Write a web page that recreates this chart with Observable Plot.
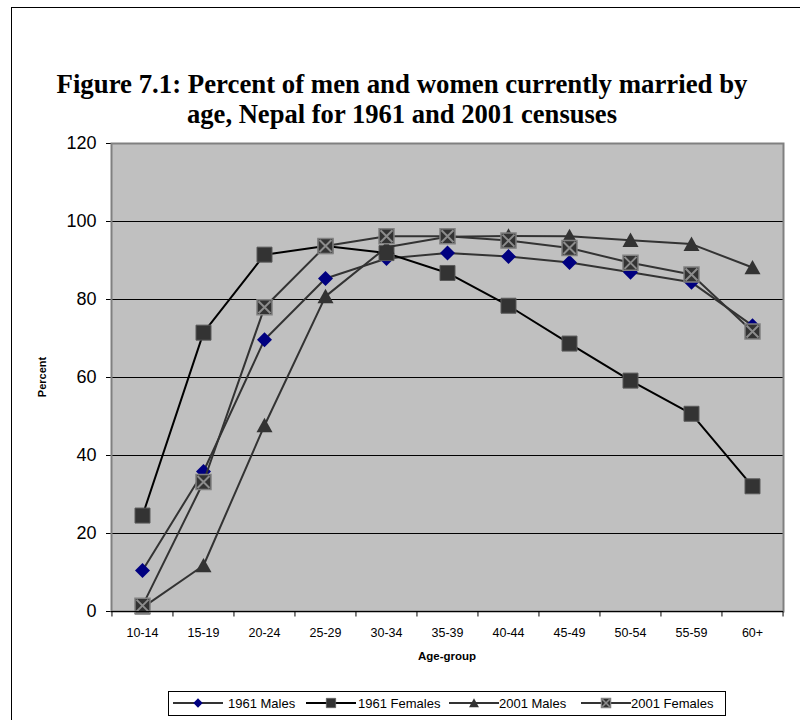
<!DOCTYPE html>
<html>
<head>
<meta charset="utf-8">
<script src="https://cdn.jsdelivr.net/npm/d3@7"></script>
<script src="https://cdn.jsdelivr.net/npm/@observablehq/plot@0.6"></script>
<style>
  body { margin: 0; background: #fff; }
  #chart { position: relative; width: 800px; height: 720px; overflow: hidden; font-family: "Liberation Sans", Arial, sans-serif; }
  #outer { position: absolute; left: 11px; top: 7px; width: 900px; height: 900px; border-left: 1px solid #000; border-top: 1px solid #000; }
  #plot, #overlay { position: absolute; left: 0; top: 0; }
  #overlay { pointer-events: none; }
  #plot [aria-label^="y-axis"] text { font-size: 18px; }
  #plot [aria-label^="x-axis"] text { font-size: 12.5px; }
  #legend { position: absolute; left: 168px; top: 691px; width: 556px; height: 23px; border: 1px solid #000; background: #fff;
            font-size: 13px; color: #000; }
  #legend .swatch { position: absolute; top: 4px; }
  #legend .label { position: absolute; top: 4px; line-height: 15px; white-space: nowrap; }
</style>
</head>
<body>
<div id="chart">
  <div id="outer"></div>
  <div id="plot"></div>
  <svg id="overlay" width="800" height="720"></svg>
  <div id="legend"></div>
</div>
<script>
// Age groups on the x axis
const ageGroups = ["10-14", "15-19", "20-24", "25-29", "30-34", "35-39", "40-44", "45-49", "50-54", "55-59", "60+"];

// Percent currently married, by census and sex
const males1961   = [10.5, 35.9, 69.7, 85.4, 90.5, 91.9, 91.0, 89.5, 87.0, 84.4, 73.3];
const females1961 = [24.6, 71.5, 91.5, 93.7, 91.9, 86.8, 78.4, 68.7, 59.2, 50.7, 32.1];
const males2001   = [1.0, 11.8, 47.7, 80.8, 93.4, 96.1, 96.3, 96.2, 95.2, 94.2, 88.2];
const females2001 = [1.5, 33.2, 78.0, 93.7, 96.2, 96.2, 95.1, 93.2, 89.4, 86.4, 71.8];

const seriesNames = ["1961 Males", "1961 Females", "2001 Males", "2001 Females"];
const yTicks = [0, 20, 40, 60, 80, 100, 120];
const gridValues = [20, 40, 60, 80, 100];

// Marker shapes (size = pi * r^2, so r is the half-width)
const half = size => Math.sqrt(size / Math.PI);
const symSquare = { draw(c, s) { const r = half(s); c.rect(-r, -r, 2 * r, 2 * r); } };
const symDiamond = { draw(c, s) { const r = half(s); c.moveTo(0, -r); c.lineTo(r, 0); c.lineTo(0, r); c.lineTo(-r, 0); c.closePath(); } };
const symTriangle = { draw(c, s) { const r = half(s); c.moveTo(0, -r * 0.95); c.lineTo(r, r * 0.85); c.lineTo(-r, r * 0.85); c.closePath(); } };
const symTimes = { draw(c, s) { const r = half(s); c.moveTo(-r, -r); c.lineTo(r, r); c.moveTo(r, -r); c.lineTo(-r, r); } };
const symTick = { draw(c, s) { const r = half(s); c.moveTo(0, 0); c.lineTo(0, r); } };

// Per-series styling
const styles = {
  "1961 Males":   { line: "#333333", width: 2, markers: [{ symbol: symDiamond, r: 7.5, fill: "#000080", stroke: "none" }] },
  "1961 Females": { line: "#000000", width: 2, markers: [{ symbol: symSquare, r: 7.5, fill: "#333333", stroke: "#5a5a5a", strokeWidth: 1 }] },
  "2001 Males":   { line: "#333333", width: 2, markers: [{ symbol: symTriangle, r: 8, fill: "#333333", stroke: "none" }] },
  "2001 Females": { line: "#333333", width: 2, markers: [
                      { symbol: symSquare, r: 7.5, fill: "#333333", stroke: "#808080", strokeWidth: 1.5 },
                      { symbol: symTimes, r: 6, fill: "none", stroke: "#8c8c8c", strokeWidth: 2 }] }
};

const valuesBySeries = {
  "1961 Males": males1961, "1961 Females": females1961,
  "2001 Males": males2001, "2001 Females": females2001
};

const rows = seriesNames.flatMap(name =>
  valuesBySeries[name].map((v, i) => ({ series: name, age: ageGroups[i], value: v })));

const W = 800, H = 720;
const mL = 111, mR = 17, mT = 143, mB = 109;
const step = (W - mL - mR) / ageGroups.length;

// Category boundary ticks on the x axis
const boundaryRows = ageGroups.map(a => ({ age: a, shift: -step / 2 }))
  .concat([{ age: ageGroups[ageGroups.length - 1], shift: step / 2 }]);

const seriesMarks = seriesNames.flatMap(name => {
  const st = styles[name];
  const data = rows.filter(d => d.series === name);
  return [
    Plot.line(data, { x: "age", y: "value", stroke: st.line, strokeWidth: st.width, strokeLinejoin: "round" }),
    ...st.markers.map(m => Plot.dot(data, {
      x: "age", y: "value", symbol: m.symbol, r: m.r,
      fill: m.fill, stroke: m.stroke, strokeWidth: m.strokeWidth || 1
    }))
  ];
});

const chart = Plot.plot({
  width: W, height: H,
  marginLeft: mL, marginRight: mR, marginTop: mT, marginBottom: mB,
  style: { fontFamily: "'Liberation Sans', Arial, sans-serif", fontSize: "12.5px", color: "#000", background: "transparent" },
  x: { type: "point", domain: ageGroups, padding: 0.5, tickSize: 0, tickPadding: 17, label: null, line: true },
  y: { domain: [0, 120], ticks: yTicks, tickSize: 5, tickPadding: 10, label: null, line: true },
  marks: [
    Plot.frame({ fill: "#c0c0c0" }),
    Plot.ruleY(gridValues, { stroke: "#000", strokeWidth: 1 }),
    Plot.frame({ stroke: "#808080", strokeWidth: 2 }),
    ...seriesMarks,
    Plot.ruleY([0], { stroke: "#000", strokeWidth: 1 }),
    ...boundaryRows.map(b => Plot.dot([b], {
      x: "age", frameAnchor: "bottom", symbol: symTick, r: 5, stroke: "#000", strokeWidth: 1, dx: b.shift
    }))
  ]
});
document.getElementById("plot").appendChild(chart);

// Title and axis titles
const overlay = d3.select("#overlay");
const titleLines = [
  { text: "Figure 7.1: Percent of men and women currently married by", y: 93, len: 691 },
  { text: "age, Nepal for 1961 and 2001 censuses", y: 123, len: 430 }
];
titleLines.forEach(t => {
  overlay.append("text")
    .attr("x", 402).attr("y", t.y)
    .attr("text-anchor", "middle")
    .attr("font-family", "'Liberation Serif', 'Times New Roman', serif")
    .attr("font-weight", "bold").attr("font-size", 27)
    .attr("textLength", t.len).attr("lengthAdjust", "spacingAndGlyphs")
    .text(t.text);
});
overlay.append("text")
  .attr("transform", "translate(46,377) rotate(-90)")
  .attr("text-anchor", "middle")
  .attr("font-family", "'Liberation Sans', Arial, sans-serif")
  .attr("font-weight", "bold").attr("font-size", 11)
  .text("Percent");
overlay.append("text")
  .attr("x", 447).attr("y", 660)
  .attr("text-anchor", "middle")
  .attr("font-family", "'Liberation Sans', Arial, sans-serif")
  .attr("font-weight", "bold").attr("font-size", 11.5)
  .text("Age-group");

// Legend: swatch and label positions inside the box
const legendSwatchX = [4, 137, 280, 412];
const legendLabelX = [59, 189, 330, 462];
const legend = d3.select("#legend");
seriesNames.forEach((name, i) => {
  const st = styles[name];
  const svg = legend.append("svg").attr("class", "swatch")
    .style("left", legendSwatchX[i] + "px")
    .attr("width", 50).attr("height", 14);
  svg.append("line").attr("x1", 0).attr("x2", 50).attr("y1", 7).attr("y2", 7)
    .attr("stroke", st.line).attr("stroke-width", st.width);
  st.markers.forEach(m => {
    const r = m.r * 0.62;
    const p = d3.path();
    m.symbol.draw(p, Math.PI * r * r);
    svg.append("path").attr("d", p.toString()).attr("transform", "translate(25,7)")
      .attr("fill", m.fill).attr("stroke", m.stroke).attr("stroke-width", (m.strokeWidth || 1) * 0.8);
  });
  legend.append("span").attr("class", "label")
    .style("left", legendLabelX[i] + "px")
    .text(name);
});
</script>
</body>
</html>
